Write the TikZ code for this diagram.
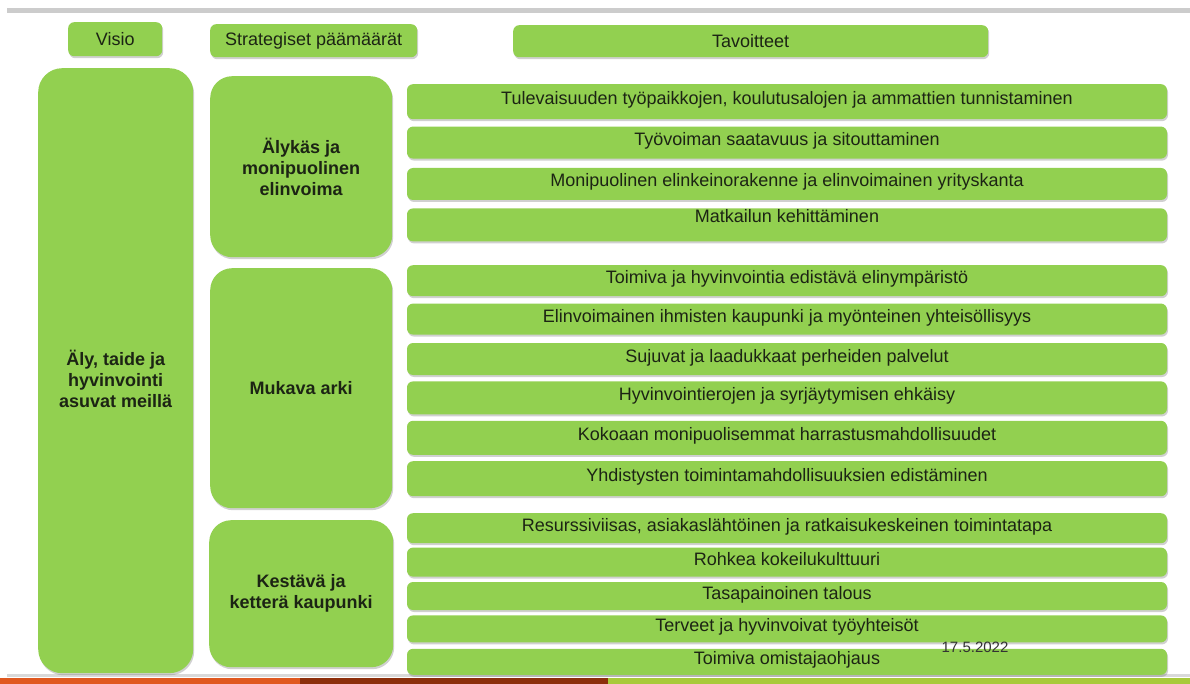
\documentclass[tikz,border=0pt]{standalone}
\usepackage{fontspec}
\setmainfont{Liberation Sans}
\usetikzlibrary{positioning, shadows}
\definecolor{leafgreen}{HTML}{92D050}
\definecolor{barorange}{HTML}{E0581F}
\definecolor{barbrown}{HTML}{8C2E0B}
\definecolor{barlime}{HTML}{A8CA3A}
\definecolor{inkdark}{HTML}{1C2414}

\begin{document}
\begin{tikzpicture}[
  x=1pt, y=-1pt,
  boxshadow/.style={drop shadow={shadow xshift=1pt, shadow yshift=-2pt,
                    opacity=0.3, fill=black!60}},
  head/.style={fill=leafgreen, rounded corners=6pt, inner sep=0pt,
               minimum height=34pt, anchor=north west, text=inkdark,
               font=\fontsize{18}{21}\selectfont, boxshadow},
  vision/.style={fill=leafgreen, rounded corners=24pt, inner sep=0pt,
                 anchor=north west, boxshadow},
  strat/.style={fill=leafgreen, rounded corners=22pt, inner sep=0pt,
                minimum width=182pt, align=center, anchor=north west,
                text=inkdark, font=\bfseries\fontsize{18}{21}\selectfont, boxshadow},
  goal/.style={fill=leafgreen, rounded corners=6pt, inner sep=0pt,
               minimum width=760pt, text height=13pt, text depth=7pt,
               text=inkdark, font=\fontsize{18}{21}\selectfont, boxshadow}
]
\useasboundingbox (0,0) rectangle (1190,684);
\fill[white] (0,0) rectangle (1190,684);
\fill[black!20] (7,8) rectangle (1190,13);
\fill[black!15] (7,674) rectangle (1190,676.5);
\fill[barorange] (0,678) rectangle (300,684);
\fill[barbrown] (300,678) rectangle (608,684);
\fill[barlime] (608,678) rectangle (1190,684);

\node[head, minimum width=94pt] (hvisio) at (68,22) {Visio};
\node[head, minimum width=207pt, minimum height=33pt] (hstrat) at (210,24) {Strategiset päämäärät};
\node[head, minimum width=475pt, minimum height=32pt] (htav) at (513,25) {Tavoitteet};

\node[vision, minimum width=155pt, minimum height=605pt,
      label={[yshift=-8pt, align=center, text=inkdark,
              font=\bfseries\fontsize{18}{21}\selectfont]center:Äly, taide ja\\hyvinvointi\\asuvat meillä}]
  (visio) at (38,68) {};

\node[strat, minimum height=181pt] (elinvoima) at (210,76) {Älykäs ja\\monipuolinen\\elinvoima};
\node[strat, minimum height=240pt] (arki) at (210,268) {Mukava arki};
\node[strat, minimum height=147pt, minimum width=184pt] (kaupunki) at (209,520) {Kestävä ja\\ketterä kaupunki};

\node[goal, minimum height=35pt, anchor=north] (g1) at (787,84) {Tulevaisuuden työpaikkojen, koulutusalojen ja ammattien tunnistaminen};
\node[goal, minimum height=32pt, below=7pt of g1] (g2) {Työvoiman saatavuus ja sitouttaminen};
\node[goal, minimum height=32pt, below=9pt of g2] (g3) {Monipuolinen elinkeinorakenne ja elinvoimainen yrityskanta};
\node[goal, minimum height=33pt, text depth=18pt, below=8pt of g3] (g4) {Matkailun kehittäminen};

\node[goal, minimum height=31pt, anchor=north] (g5) at (787,265) {Toimiva ja hyvinvointia edistävä elinympäristö};
\node[goal, minimum height=31pt, below=7pt of g5] (g6) {Elinvoimainen ihmisten kaupunki ja myönteinen yhteisöllisyys};
\node[goal, minimum height=32pt, below=8pt of g6] (g7) {Sujuvat ja laadukkaat perheiden palvelut};
\node[goal, minimum height=33pt, below=6pt of g7] (g8) {Hyvinvointierojen ja syrjäytymisen ehkäisy};
\node[goal, minimum height=34pt, below=6pt of g8] (g9) {Kokoaan monipuolisemmat harrastusmahdollisuudet};
\node[goal, minimum height=35pt, below=6pt of g9] (g10) {Yhdistysten toimintamahdollisuuksien edistäminen};

\node[goal, minimum height=30pt, anchor=north] (g11) at (787,513) {Resurssiviisas, asiakaslähtöinen ja ratkaisukeskeinen toimintatapa};
\node[goal, minimum height=29pt, below=4pt of g11] (g12) {Rohkea kokeilukulttuuri};
\node[goal, minimum height=28pt, below=5pt of g12] (g13) {Tasapainoinen talous};
\node[goal, minimum height=27pt, below=5pt of g13] (g14) {Terveet ja hyvinvoivat työyhteisöt};
\node[goal, minimum height=26pt, below=6pt of g14] (g15) {Toimiva omistajaohjaus};

\node[font=\fontsize{15}{18}\selectfont, text=black!80, inner sep=0pt] (pvm) at (975,647) {17.5.2022};
\end{tikzpicture}
\end{document}
